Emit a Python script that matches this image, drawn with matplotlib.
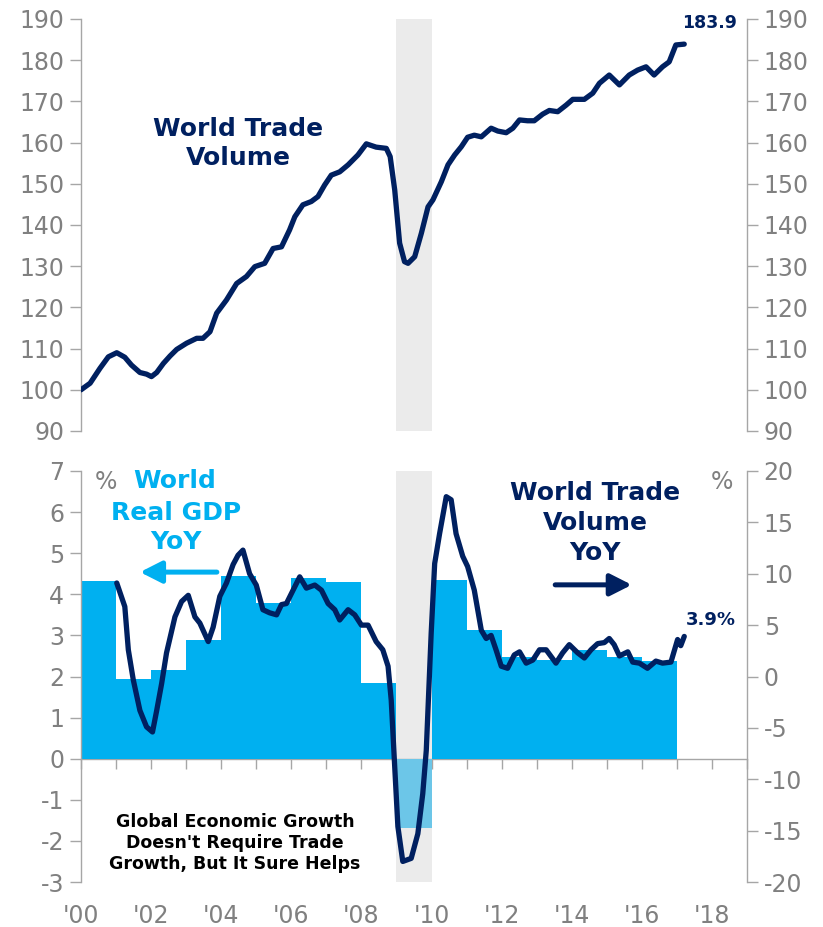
import matplotlib
matplotlib.use("Agg")
import matplotlib.pyplot as plt
import numpy as np

# ---------------- data ----------------
# World trade volume index (2000 = 100)
trade_x = [2000.00, 2000.26, 2000.54, 2000.78, 2001.02, 2001.25, 2001.44, 2001.68, 2001.87, 2002.01,
           2002.16, 2002.35, 2002.54, 2002.73, 2003.01, 2003.30, 2003.48, 2003.68, 2003.87, 2004.15,
           2004.44, 2004.72, 2004.96, 2005.24, 2005.48, 2005.72, 2005.95, 2006.10, 2006.33, 2006.57,
           2006.76, 2006.95, 2007.14, 2007.38, 2007.62, 2007.90, 2008.14, 2008.42, 2008.71, 2008.82,
           2008.95, 2009.09, 2009.23, 2009.33, 2009.52, 2009.71, 2009.90, 2010.04, 2010.28, 2010.47,
           2010.66, 2010.85, 2011.03, 2011.22, 2011.42, 2011.70, 2011.89, 2012.13, 2012.32, 2012.51,
           2012.74, 2012.93, 2013.17, 2013.36, 2013.60, 2013.84, 2014.03, 2014.36, 2014.60, 2014.79,
           2015.07, 2015.36, 2015.64, 2015.88, 2016.12, 2016.35, 2016.59, 2016.78, 2016.97, 2017.21]
trade_vol = [100.0, 101.6, 105.2, 108.0, 109.0, 107.9, 106.0, 104.2, 103.8, 103.2,
             104.2, 106.4, 108.2, 109.8, 111.3, 112.5, 112.5, 114.1, 118.6, 121.8,
             125.8, 127.5, 129.9, 130.7, 134.3, 134.7, 138.8, 142.0, 144.9, 145.7,
             146.9, 149.7, 152.1, 152.9, 154.6, 157.0, 159.7, 158.9, 158.6, 156.6,
             148.5, 135.6, 131.1, 130.7, 132.3, 138.0, 144.4, 146.1, 150.5, 154.6,
             157.0, 159.0, 161.3, 161.8, 161.4, 163.5, 162.8, 162.4, 163.5, 165.5,
             165.3, 165.3, 166.9, 167.8, 167.5, 169.1, 170.5, 170.5, 172.0, 174.4,
             176.4, 174.0, 176.4, 177.6, 178.4, 176.4, 178.4, 179.6, 183.7, 183.9]

# World trade volume YoY (%), right axis
yoy_x = [2001.02, 2001.25, 2001.35, 2001.49, 2001.68, 2001.87, 2002.04, 2002.16, 2002.30, 2002.44,
         2002.68, 2002.87, 2003.06, 2003.25, 2003.39, 2003.63, 2003.77, 2003.96, 2004.15, 2004.34,
         2004.48, 2004.62, 2004.81, 2005.00, 2005.19, 2005.38, 2005.58, 2005.72, 2005.86, 2006.05,
         2006.24, 2006.43, 2006.67, 2006.86, 2007.05, 2007.24, 2007.38, 2007.62, 2007.81, 2008.00,
         2008.19, 2008.42, 2008.61, 2008.76, 2008.85, 2008.95, 2009.04, 2009.18, 2009.42, 2009.61,
         2009.75, 2009.85, 2009.99, 2010.09, 2010.23, 2010.42, 2010.56, 2010.70, 2010.89, 2011.03,
         2011.22, 2011.42, 2011.56, 2011.70, 2011.84, 2011.99, 2012.17, 2012.36, 2012.51, 2012.70,
         2012.89, 2013.08, 2013.27, 2013.55, 2013.74, 2013.93, 2014.17, 2014.36, 2014.55, 2014.74,
         2014.93, 2015.07, 2015.21, 2015.36, 2015.60, 2015.74, 2015.93, 2016.16, 2016.40, 2016.59,
         2016.83, 2017.02, 2017.11, 2017.21]
yoy_val = [9.1, 6.8, 2.6, -0.3, -3.3, -4.9, -5.4, -3.3, -0.7, 2.3,
           5.8, 7.3, 7.9, 5.8, 5.2, 3.4, 4.8, 7.8, 9.1, 10.9,
           11.8, 12.3, 10.0, 8.9, 6.5, 6.2, 6.0, 7.0, 7.1, 8.4,
           9.7, 8.6, 8.9, 8.4, 7.1, 6.5, 5.5, 6.5, 6.0, 5.0,
           5.0, 3.4, 2.6, 1.0, -2.3, -8.8, -14.6, -18.0, -17.7, -15.3,
           -11.4, -7.2, 4.2, 11.0, 13.9, 17.5, 17.2, 13.9, 11.7, 10.7,
           8.4, 4.5, 3.7, 4.0, 2.6, 1.0, 0.8, 2.1, 2.4, 1.3,
           1.6, 2.6, 2.6, 1.3, 2.3, 3.1, 2.3, 1.8, 2.6, 3.2,
           3.3, 3.7, 3.1, 2.0, 2.4, 1.4, 1.3, 0.8, 1.5, 1.3,
           1.4, 3.6, 3.0, 3.9]

# World real GDP YoY (%), annual, left axis
gdp_years = [2000, 2001, 2002, 2003, 2004, 2005, 2006, 2007, 2008, 2009,
             2010, 2011, 2012, 2013, 2014, 2015, 2016]
gdp_yoy = [4.33, 1.95, 2.17, 2.88, 4.45, 3.80, 4.39, 4.29, 1.84, -1.69,
           4.35, 3.13, 2.48, 2.40, 2.64, 2.47, 2.37]

recession = (2009, 2010)

year_ticks = list(range(2000, 2019, 2))
year_labels = ["'%02d" % (y % 100) for y in year_ticks]
top_ticks = list(range(90, 191, 10))
gdp_ticks = list(range(-3, 8))
yoy_ticks = list(range(-20, 21, 5))

# ---------------- style ----------------
NAVY = "#002060"
CYAN = "#00B0F0"
CYAN_NEG = "#6CC6E8"
GREY_BAND = "#EBEBEB"
TICK_GREY = "#808080"
SPINE_GREY = "#A6A6A6"
FS_TICK = 17

plt.rcParams["font.family"] = ["DejaVu Sans"]
plt.rcParams["axes.unicode_minus"] = False

fig = plt.figure(figsize=(8.23, 9.27), dpi=100)
L, W = 81 / 823, 666 / 823
ax_top = fig.add_axes([L, 1 - 431 / 927, W, 412 / 927])
ax_bot = fig.add_axes([L, 1 - 882 / 927, W, 411 / 927])

XMIN, XMAX = 2000, 2019


def style_y(ax):
    for s in ("top", "bottom"):
        ax.spines[s].set_visible(False)
    for s in ("left", "right"):
        ax.spines[s].set_color(SPINE_GREY)
        ax.spines[s].set_linewidth(1.0)
    ax.tick_params(axis="y", direction="out", length=8, width=1.0, color=SPINE_GREY,
                   labelsize=FS_TICK, labelcolor=TICK_GREY, pad=4)


# ---------------- top panel ----------------
ax_top.axvspan(*recession, color=GREY_BAND, zorder=0, lw=0)
ax_top.plot(trade_x, trade_vol, color=NAVY, lw=3.8, solid_capstyle="round",
            solid_joinstyle="round", zorder=3)
ax_top.set_xlim(XMIN, XMAX)
ax_top.set_ylim(90, 190)
ax_top.set_yticks(top_ticks)
style_y(ax_top)
ax_top.tick_params(axis="y", left=True, right=True, labelleft=True, labelright=True)
ax_top.tick_params(axis="x", bottom=False, labelbottom=False)
ax_top.text(0.236, 0.698, "World Trade\nVolume", transform=ax_top.transAxes, ha="center",
            va="center", color=NAVY, fontsize=18, fontweight="bold", linespacing=1.3)
ax_top.text(0.944, 0.990, "%.1f" % trade_vol[-1], transform=ax_top.transAxes, ha="center",
            va="center", color=NAVY, fontsize=12.5, fontweight="bold")

# ---------------- bottom panel ----------------
ax_bot.axvspan(*recession, color=GREY_BAND, zorder=0, lw=0)
bar_colors = [CYAN if v >= 0 else CYAN_NEG for v in gdp_yoy]
ax_bot.bar(gdp_years, gdp_yoy, width=1.0, align="edge", color=bar_colors, lw=0, zorder=1)
ax_bot.set_xlim(XMIN, XMAX)
ax_bot.set_ylim(-3, 7)
ax_bot.set_yticks(gdp_ticks)
style_y(ax_bot)
ax_bot.spines["right"].set_visible(False)
ax_bot.set_xticks(year_ticks)
ax_bot.set_xticklabels(year_labels)
ax_bot.tick_params(axis="x", length=0, labelsize=FS_TICK, labelcolor=TICK_GREY, pad=16)

# zero line with yearly ticks
zero_frac = (0 - (-3)) / (7 - (-3))
sec = ax_bot.secondary_xaxis(zero_frac)
sec.set_xticks(list(range(2000, 2020)))
sec.tick_params(axis="x", direction="out", length=7, width=1.0, color=SPINE_GREY,
                labelbottom=False, labeltop=False)
for s in sec.spines.values():
    s.set_color(SPINE_GREY)
    s.set_linewidth(1.0)

ax_r = ax_bot.twinx()
ax_r.plot(yoy_x, yoy_val, color=NAVY, lw=3.8, solid_capstyle="round",
          solid_joinstyle="round", zorder=3)
ax_r.set_ylim(-20, 20)
ax_r.set_yticks(yoy_ticks)
style_y(ax_r)
ax_r.spines["left"].set_visible(False)
ax_r.set_xlim(XMIN, XMAX)

ax_bot.text(0.0375, 0.973, "%", transform=ax_bot.transAxes, ha="center", va="center",
            color=TICK_GREY, fontsize=17)
ax_bot.text(0.962, 0.973, "%", transform=ax_bot.transAxes, ha="center", va="center",
            color=TICK_GREY, fontsize=17)
ax_bot.text(0.141, 0.976, "World", transform=ax_bot.transAxes, ha="center",
            va="center", color=CYAN, fontsize=18, fontweight="bold")
ax_bot.text(0.143, 0.8625, "Real GDP\nYoY", transform=ax_bot.transAxes, ha="center",
            va="center", color=CYAN, fontsize=18, fontweight="bold", linespacing=1.3)
ax_bot.text(0.772, 0.873, "World Trade\nVolume\nYoY", transform=ax_bot.transAxes, ha="center",
            va="center", color=NAVY, fontsize=18, fontweight="bold", linespacing=1.3)
ax_bot.text(0.946, 0.637, "%.1f%%" % yoy_val[-1], transform=ax_bot.transAxes, ha="center",
            va="center", color=NAVY, fontsize=13, fontweight="bold")
ax_bot.text(0.231, 0.095, "Global Economic Growth\nDoesn't Require Trade\nGrowth, But It Sure Helps",
            transform=ax_bot.transAxes, ha="center", va="center", color="black",
            fontsize=12.5, fontweight="bold", linespacing=1.2)

# arrows
ax_bot.annotate("", xy=(0.0886, 0.754), xytext=(0.204, 0.754), xycoords="axes fraction",
                textcoords="axes fraction",
                arrowprops=dict(arrowstyle="-|>,head_length=0.65,head_width=0.33",
                                mutation_scale=20, lw=3.6, color=CYAN,
                                shrinkA=0, shrinkB=0))
ax_r.annotate("", xy=(0.827, 0.723), xytext=(0.712, 0.723), xycoords="axes fraction",
              textcoords="axes fraction",
              arrowprops=dict(arrowstyle="-|>,head_length=0.65,head_width=0.33",
                              mutation_scale=20, lw=3.6, color=NAVY,
                              shrinkA=0, shrinkB=0))

fig.savefig("out.png", dpi=100)
